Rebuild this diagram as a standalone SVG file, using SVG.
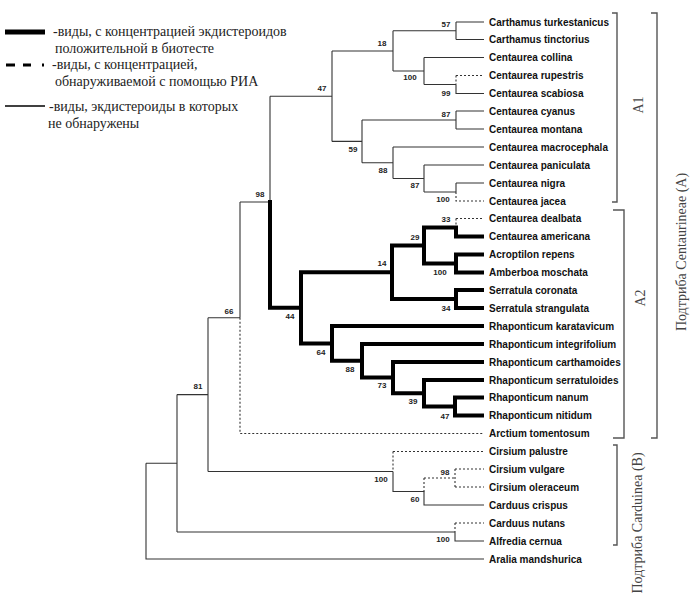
<svg xmlns="http://www.w3.org/2000/svg" width="699" height="601" viewBox="0 0 699 601">
<style>
.thin{fill:none;stroke:#333;stroke-width:1.1}
.thick{fill:none;stroke:#000;stroke-width:4;stroke-linecap:square;stroke-linejoin:miter}
.dash{fill:none;stroke:#333;stroke-width:1.1;stroke-dasharray:2,2}
.br{fill:none;stroke:#555;stroke-width:1.4}
.leaf{font-family:"Liberation Sans",Arial,sans-serif;font-weight:bold;font-size:10px;fill:#111}
.sup{font-family:"Liberation Sans",Arial,sans-serif;font-weight:bold;font-size:8px;fill:#222;text-anchor:middle}
.leg{font-family:"Liberation Serif","Times New Roman",serif;font-size:14px;fill:#222}
.rot{font-family:"Liberation Serif","Times New Roman",serif;font-size:14px;fill:#444;text-anchor:middle}
</style>
<rect width="699" height="601" fill="#fff"/>
<g id="legend">
<line x1="5" y1="32" x2="45" y2="32" stroke="#000" stroke-width="5"/>
<path d="M6,65 H15 M23,65 H31 M42,65 H44" stroke="#000" stroke-width="3" fill="none"/>
<line x1="5" y1="106" x2="45" y2="106" stroke="#000" stroke-width="1.4"/>
<text class="leg" x="53" y="36">-виды, с концентрацией экдистероидов</text>
<text class="leg" x="55" y="53">положительной в биотесте</text>
<text class="leg" x="52" y="69">-виды, с концентрацией,</text>
<text class="leg" x="55" y="86">обнаруживаемой с помощью РИА</text>
<text class="leg" x="49" y="111">-виды, экдистероиды в которых</text>
<text class="leg" x="48" y="128">не обнаружены</text>
</g>
<g id="connectors">
<path class="thin" d="M146,463.3 V559 H484 M146,463.3 H177 M177,394.6 V532 M177,394.6 H208 M177,532 H455 M455,532 V541 H484 M208,317.75 V471.5 M208,317.75 H240 M208,471.5 H393 M393,471.5 V491.5 H424 V505 H484 M240,202 V317.75 M240,202 H270 M270,96.2 V202 M270,96.2 H332 M332,51 V141.4 M332,51 H393 M393,30.75 V71 M393,30.75 H456 M456,22 V39.5 M456,22 H484 M456,39.5 H484 M393,71 H424 M424,57.5 V84.5 M424,57.5 H484 M424,84.5 H456 M456,84.5 V93.5 H484 M332,141.4 H362 M362,120 V162.75 M362,120 H456 M456,111 V129 M456,111 H484 M456,129 H484 M362,162.75 H393 M393,147 V178.5 M393,147 H484 M393,178.5 H424 M424,165 V192 M424,165 H484 M424,192 H456 M456,183 V192 M456,183 H484"/>
<path class="dash" d="M456,75.5 V84.5 M456,75.5 H484 M456,192 V201 H484 M456,218.5 V227.5 M456,218.5 H484 M240,317.75 V433.5 H484 M393,451.5 V471.5 M393,451.5 H484 M424,478 V491.5 M424,478 H455 M455,469 V487 M455,469 H484 M455,487 H484 M455,523 V532 M455,523 H484"/>
<path class="thick" d="M270,202 V307.8 H301 M301,272.25 V343.4 M301,272.25 H392 M392,245.5 V299 M392,245.5 H424 M424,227.5 V263.5 M424,227.5 H456 V236.5 H482 M424,263.5 H456 M456,254.5 V272.5 M456,254.5 H482 M456,272.5 H482 M392,299 H456 M456,290 V308 M456,290 H482 M456,308 H482 M301,343.4 H332 M332,326 V360.8 M332,326 H482 M332,360.8 H362 M362,344 V377.6 M362,344 H482 M362,377.6 H393 M393,362 V393.25 M393,362 H482 M393,393.25 H424 M424,380 V406.5 M424,380 H482 M424,406.5 H455 M455,397.5 V415.5 M455,397.5 H482 M455,415.5 H482"/>
</g>
<g id="support">
<text class="sup" x="446" y="27">57</text>
<text class="sup" x="382" y="46">18</text>
<text class="sup" x="410" y="80">100</text>
<text class="sup" x="446" y="96">99</text>
<text class="sup" x="322" y="91">47</text>
<text class="sup" x="446" y="117">87</text>
<text class="sup" x="353" y="152">59</text>
<text class="sup" x="383" y="173">88</text>
<text class="sup" x="415" y="188">87</text>
<text class="sup" x="443" y="202">100</text>
<text class="sup" x="446" y="222">33</text>
<text class="sup" x="415" y="240">29</text>
<text class="sup" x="382" y="266">14</text>
<text class="sup" x="440" y="275">100</text>
<text class="sup" x="446" y="311">34</text>
<text class="sup" x="290" y="319">44</text>
<text class="sup" x="321" y="355">64</text>
<text class="sup" x="350" y="372">88</text>
<text class="sup" x="382" y="388">73</text>
<text class="sup" x="413" y="404">39</text>
<text class="sup" x="445" y="419">47</text>
<text class="sup" x="260" y="197">98</text>
<text class="sup" x="229" y="314">66</text>
<text class="sup" x="198" y="389">81</text>
<text class="sup" x="381" y="482">100</text>
<text class="sup" x="445" y="475">98</text>
<text class="sup" x="415" y="502">60</text>
<text class="sup" x="443" y="542">100</text>
</g>
<g id="n-carthamus-turkestanicus"><text class="leaf" x="489" y="25.5">Carthamus turkestanicus</text></g>
<g id="n-carthamus-tinctorius"><text class="leaf" x="489" y="43">Carthamus tinctorius</text></g>
<g id="n-centaurea-collina"><text class="leaf" x="489" y="61">Centaurea collina</text></g>
<g id="n-centaurea-rupestris"><text class="leaf" x="489" y="79">Centaurea rupestris</text></g>
<g id="n-centaurea-scabiosa"><text class="leaf" x="489" y="97">Centaurea scabiosa</text></g>
<g id="n-centaurea-cyanus"><text class="leaf" x="489" y="114.5">Centaurea cyanus</text></g>
<g id="n-centaurea-montana"><text class="leaf" x="489" y="132.5">Centaurea montana</text></g>
<g id="n-centaurea-macrocephala"><text class="leaf" x="489" y="150.5">Centaurea macrocephala</text></g>
<g id="n-centaurea-paniculata"><text class="leaf" x="489" y="168.5">Centaurea paniculata</text></g>
<g id="n-centaurea-nigra"><text class="leaf" x="489" y="186.5">Centaurea nigra</text></g>
<g id="n-centaurea-jacea"><text class="leaf" x="489" y="204.5">Centaurea jacea</text></g>
<g id="n-centaurea-dealbata"><text class="leaf" x="489" y="222">Centaurea dealbata</text></g>
<g id="n-centaurea-americana"><text class="leaf" x="489" y="240">Centaurea americana</text></g>
<g id="n-acroptilon-repens"><text class="leaf" x="489" y="258">Acroptilon repens</text></g>
<g id="n-amberboa-moschata"><text class="leaf" x="489" y="276">Amberboa moschata</text></g>
<g id="n-serratula-coronata"><text class="leaf" x="489" y="293.5">Serratula coronata</text></g>
<g id="n-serratula-strangulata"><text class="leaf" x="489" y="311.5">Serratula strangulata</text></g>
<g id="n-rhaponticum-karatavicum"><text class="leaf" x="489" y="329.5">Rhaponticum karatavicum</text></g>
<g id="n-rhaponticum-integrifolium"><text class="leaf" x="489" y="347.5">Rhaponticum integrifolium</text></g>
<g id="n-rhaponticum-carthamoides"><text class="leaf" x="489" y="365.5">Rhaponticum carthamoides</text></g>
<g id="n-rhaponticum-serratuloides"><text class="leaf" x="489" y="383.5">Rhaponticum serratuloides</text></g>
<g id="n-rhaponticum-nanum"><text class="leaf" x="489" y="401">Rhaponticum nanum</text></g>
<g id="n-rhaponticum-nitidum"><text class="leaf" x="489" y="419">Rhaponticum nitidum</text></g>
<g id="n-arctium-tomentosum"><text class="leaf" x="489" y="437">Arctium tomentosum</text></g>
<g id="n-cirsium-palustre"><text class="leaf" x="489" y="455">Cirsium palustre</text></g>
<g id="n-cirsium-vulgare"><text class="leaf" x="489" y="472.5">Cirsium vulgare</text></g>
<g id="n-cirsium-oleraceum"><text class="leaf" x="489" y="490.5">Cirsium oleraceum</text></g>
<g id="n-carduus-crispus"><text class="leaf" x="489" y="508.5">Carduus crispus</text></g>
<g id="n-carduus-nutans"><text class="leaf" x="489" y="526.5">Carduus nutans</text></g>
<g id="n-alfredia-cernua"><text class="leaf" x="489" y="544.5">Alfredia cernua</text></g>
<g id="n-aralia-mandshurica"><text class="leaf" x="489" y="562.5">Aralia mandshurica</text></g>
<g id="brackets">
<path class="br" d="M612,13 H617 V202 H612"/>
<path class="br" d="M613,210 H624 V438 H613"/>
<path class="br" d="M651,13 H657 V438 H651"/>
<path class="br" d="M613,445 H617 V545 H613"/>
<text class="rot" transform="translate(643,105) rotate(-90)">A1</text>
<text class="rot" transform="translate(645,298) rotate(-90)">A2</text>
<text class="rot" transform="translate(686,252) rotate(-90)">Подтриба Centaurineae (A)</text>
<text class="rot" transform="translate(642,523) rotate(-90)">Подтриба Carduinea (B)</text>
</g>
</svg>
